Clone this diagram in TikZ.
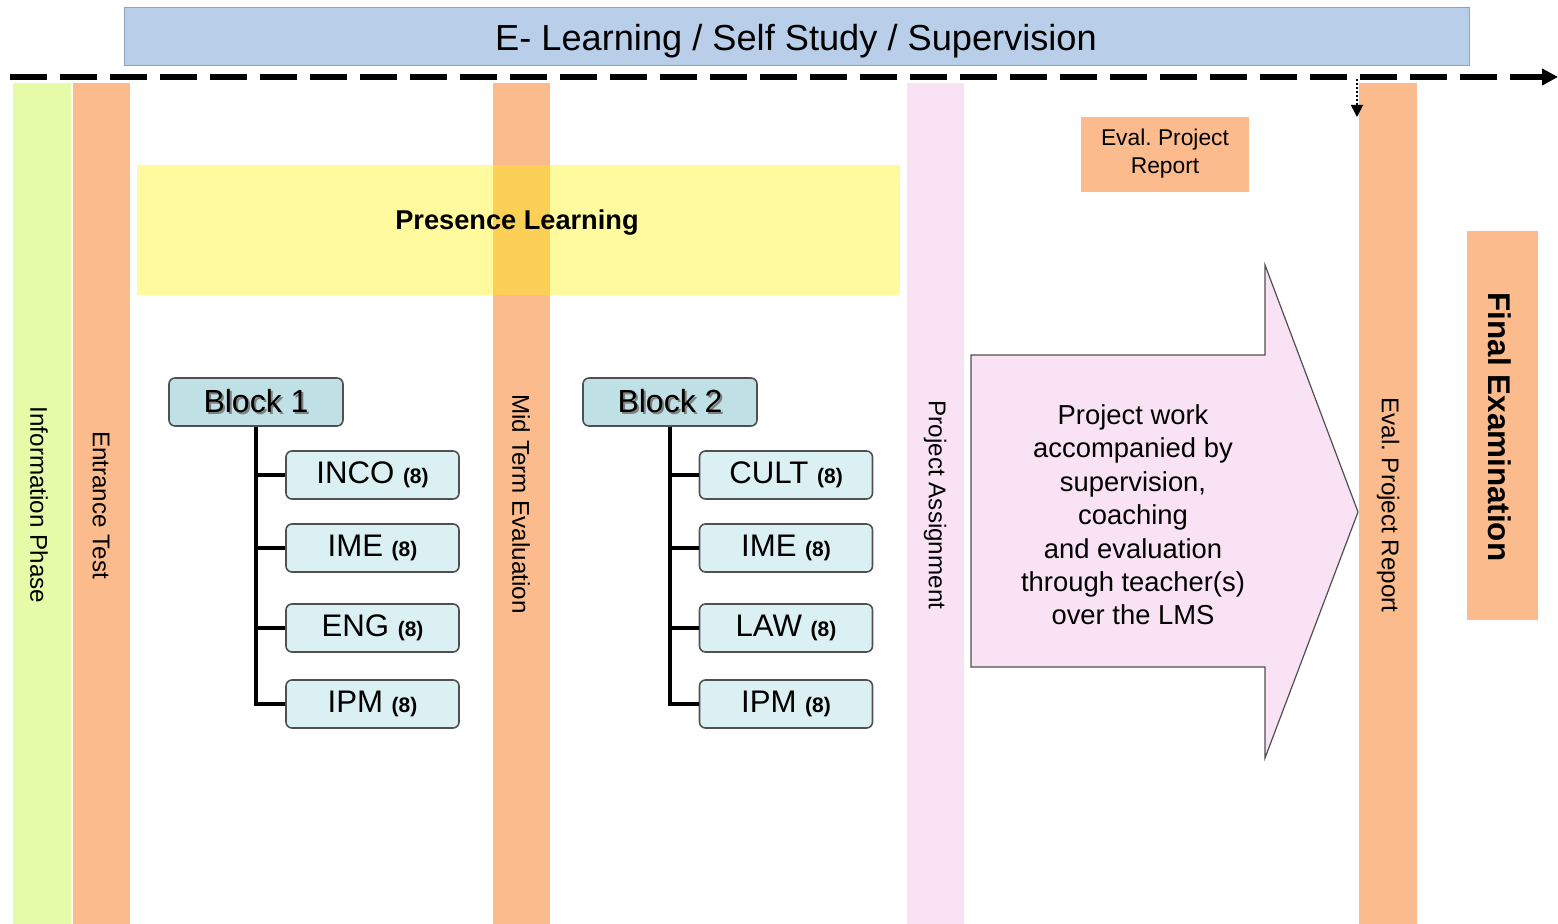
\documentclass[tikz,border=0pt]{standalone}
\usepackage{fontspec}
\setmainfont{Liberation Sans}
\usetikzlibrary{arrows.meta}

\definecolor{barblue}{HTML}{B9CFE9}
\definecolor{barborder}{HTML}{8FA3BA}
\definecolor{infogreen}{HTML}{E6FBA7}
\definecolor{evalorange}{HTML}{FBBB8D}
\definecolor{assignpink}{HTML}{F8E2F3}
\definecolor{workpink}{HTML}{F8E2F4}
\definecolor{blockcyan}{HTML}{BFE1E5}
\definecolor{subjcyan}{HTML}{DAF0F2}
\definecolor{boxline}{HTML}{505050}

\newcommand{\credits}[1]{{\fontsize{10.5}{12}\selectfont\bfseries #1}}
\newcommand{\shadowed}[1]{\makebox[0pt][l]{\hspace{1pt}\raisebox{-1pt}{\color{gray}#1}}#1}

\begin{document}
\frenchspacing
\begin{tikzpicture}[x=0.5pt, y=-0.5pt,
    vlabel/.style={rotate=-90, font=\fontsize{12.1}{14}\selectfont},
    block/.style={draw=boxline, fill=blockcyan, line width=0.8pt, rounded corners=3pt,
        minimum width=87pt, minimum height=24pt, inner sep=0pt,
        font=\fontsize{16}{18}\selectfont},
    subject/.style={draw=boxline, fill=subjcyan, line width=0.8pt, rounded corners=3pt,
        minimum width=86.5pt, minimum height=24pt, inner sep=0pt,
        font=\fontsize{15.6}{18}\selectfont},
    branch/.style={line width=2pt}]
    \useasboundingbox (0, 0) rectangle (1558, 924);

    % Draw the phase columns
    \fill[infogreen] (13, 83) rectangle (71, 924);
    \node[vlabel] (info) at (39, 505) {Information Phase};

    \fill[evalorange] (73, 83) rectangle (130, 924);
    \node[vlabel] (entrance) at (101, 505) {Entrance Test};

    \fill[evalorange] (493, 83) rectangle (550, 924);
    \node[vlabel] (midterm) at (521, 504) {Mid Term Evaluation};

    \fill[assignpink] (907, 83) rectangle (964, 924);
    \node[vlabel] (assign) at (935, 505) {Project Assignment};

    \fill[evalorange] (1359, 83) rectangle (1417, 924);
    \node[vlabel] (evalcol) at (1388, 505) {Eval. Project Report};

    \fill[evalorange] (1467, 231) rectangle (1538, 620);
    \node[vlabel, font=\fontsize{15.7}{18}\selectfont\bfseries] (final) at (1500, 427) {Final Examination};

    % Presence learning band
    \fill[yellow, fill opacity=0.38] (137, 165) rectangle (900, 295);
    \node[font=\fontsize{13.6}{16}\selectfont\bfseries] (presence) at (517, 223) {Presence Learning};

    % Top bar and time line
    \draw[barborder, fill=barblue] (124, 7) rectangle (1469, 65);
    \node[font=\fontsize{18.1}{22}\selectfont] (elearn) at (796, 41) {E- Learning / Self Study / Supervision};

    \coordinate (tstart) at (10, 77);
    \coordinate (tend) at (1558, 77);
    \draw[line width=2.6pt, dash pattern=on 18.5pt off 6.5pt, -{Triangle[length=8pt, width=8pt]}] (tstart) -- (tend);

    % Report box and dotted arrow
    \fill[evalorange] (1081, 117) rectangle (1249, 192);
    \node[align=center, font=\fontsize{11.4}{14}\selectfont] (report) at (1165, 154) {Eval. Project\\Report};
    \coordinate (dtop) at (1357, 79);
    \coordinate (dbot) at (1357, 117);
    \draw[line width=0.9pt, dash pattern=on 1pt off 1pt, -{Triangle[length=6pt, width=6pt]}] (dtop) -- (dbot);

    % Block 1 and its subjects
    \node[block] (b1) at (256, 402) {\shadowed{Block 1}};
    \node[subject] (b1inco) at (372.5, 475) {INCO \credits{(8)}};
    \node[subject] (b1ime) at (372.5, 548) {IME \credits{(8)}};
    \node[subject] (b1eng) at (372.5, 628) {ENG \credits{(8)}};
    \node[subject] (b1ipm) at (372.5, 704) {IPM \credits{(8)}};

    \draw[branch] (b1.south) |- (b1ipm.west);
    \draw[branch] (b1.south |- b1inco.west) -- (b1inco.west);
    \draw[branch] (b1.south |- b1ime.west) -- (b1ime.west);
    \draw[branch] (b1.south |- b1eng.west) -- (b1eng.west);

    % Block 2 and its subjects
    \node[block] (b2) at (670, 402) {\shadowed{Block 2}};
    \node[subject] (b2cult) at (786, 475) {CULT \credits{(8)}};
    \node[subject] (b2ime) at (786, 548) {IME \credits{(8)}};
    \node[subject] (b2law) at (786, 628) {LAW \credits{(8)}};
    \node[subject] (b2ipm) at (786, 704) {IPM \credits{(8)}};

    \draw[branch] (b2.south) |- (b2ipm.west);
    \draw[branch] (b2.south |- b2cult.west) -- (b2cult.west);
    \draw[branch] (b2.south |- b2ime.west) -- (b2ime.west);
    \draw[branch] (b2.south |- b2law.west) -- (b2law.west);

    % Big arrow for the project work
    \draw[boxline, fill=workpink, line width=0.6pt]
        (971, 355) -- (1265, 355) -- (1265, 265) -- (1358, 512) -- (1265, 758)
        -- (1265, 667) -- (971, 667) -- cycle;
    \node[align=center, font=\fontsize{13.7}{16.7}\selectfont] (work) at (1133, 515)
        {Project work\\accompanied by\\supervision,\\coaching\\and evaluation\\through teacher(s)\\over the LMS};
\end{tikzpicture}
\end{document}
